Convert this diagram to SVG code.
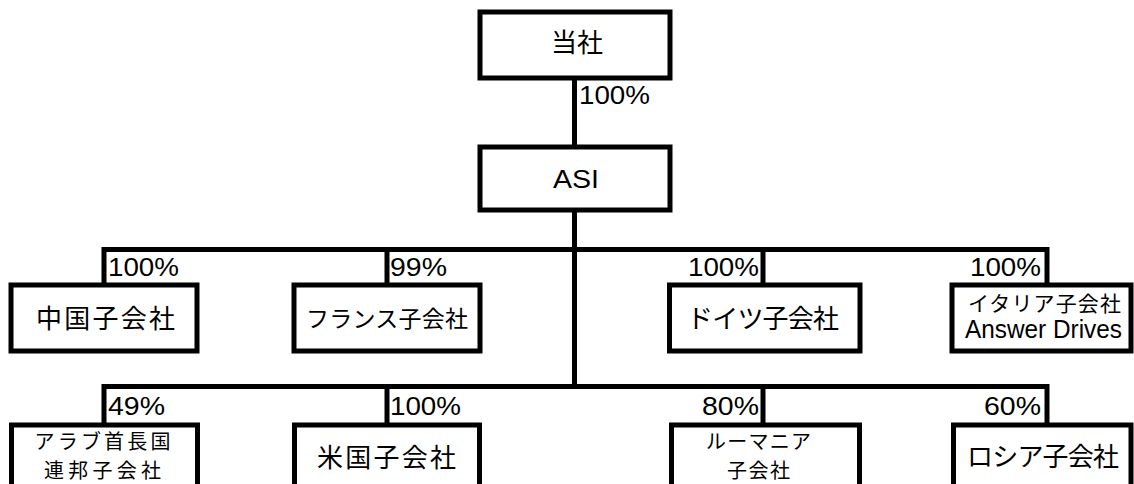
<svg xmlns="http://www.w3.org/2000/svg" width="1134" height="484" viewBox="0 0 1134 484">
<style>
.box{fill:#fff;stroke:#000;stroke-width:5}
.ln{fill:none;stroke:#000;stroke-width:5;stroke-linejoin:miter}
.jp{font-family:"Noto Sans CJK JP","Noto Sans",sans-serif;fill:#000;text-anchor:middle}
.la{font-family:"Liberation Sans",Arial,sans-serif;fill:#000;font-size:25px}
</style>
<rect width="1134" height="484" fill="#fff"/>
<g id="connectors">
<path class="ln" d="M574.5 78 V147"/>
<path class="ln" d="M574.5 210 V386.5"/>
<path class="ln" d="M104 285 V249.5 H1047 V285 M387 249.5 V285 M763 249.5 V285"/>
<path class="ln" d="M104 425 V386.5 H1047 V425 M387 386.5 V425 M763 386.5 V425"/>
</g>
<g id="labels" class="la">
<text x="579" y="104" textLength="71" lengthAdjust="spacingAndGlyphs">100%</text>
<text x="108" y="276" textLength="71" lengthAdjust="spacingAndGlyphs">100%</text>
<text x="390" y="276" textLength="57" lengthAdjust="spacingAndGlyphs">99%</text>
<text x="759" y="276" text-anchor="end" textLength="71" lengthAdjust="spacingAndGlyphs">100%</text>
<text x="1041" y="276" text-anchor="end" textLength="71" lengthAdjust="spacingAndGlyphs">100%</text>
<text x="108" y="415" textLength="57" lengthAdjust="spacingAndGlyphs">49%</text>
<text x="390" y="415" textLength="71" lengthAdjust="spacingAndGlyphs">100%</text>
<text x="759" y="415" text-anchor="end" textLength="57" lengthAdjust="spacingAndGlyphs">80%</text>
<text x="1041" y="415" text-anchor="end" textLength="57" lengthAdjust="spacingAndGlyphs">60%</text>
</g>
<g id="node-tousha">
<rect class="box" x="480" y="12" width="190" height="66"/>
<text class="jp" x="577" y="52" font-size="26" textLength="52">当社</text>
</g>
<g id="node-asi">
<rect class="box" x="480" y="147" width="190" height="63"/>
<text class="la" x="576" y="188" text-anchor="middle" textLength="46" lengthAdjust="spacingAndGlyphs">ASI</text>
</g>
<g id="node-china">
<rect class="box" x="11" y="285" width="186" height="66"/>
<text class="jp" x="105.5" y="328" font-size="26" textLength="139">中国子会社</text>
</g>
<g id="node-france">
<rect class="box" x="294" y="285" width="186" height="66"/>
<text class="jp" x="387" y="327" font-size="23" textLength="162">フランス子会社</text>
</g>
<g id="node-germany">
<rect class="box" x="669.5" y="285" width="190.5" height="66"/>
<text class="jp" x="763" y="328" font-size="26" textLength="152">ドイツ子会社</text>
</g>
<g id="node-italy">
<rect class="box" x="952" y="285" width="179" height="66"/>
<text class="jp" x="1044.5" y="311" font-size="21" textLength="153">イタリア子会社</text>
<text class="la" x="1043.5" y="338" text-anchor="middle" textLength="157" lengthAdjust="spacingAndGlyphs">Answer Drives</text>
</g>
<g id="node-uae">
<rect class="box" x="11.5" y="425" width="186" height="80"/>
<text class="jp" x="102.5" y="449" font-size="20" textLength="136">アラブ首長国</text>
<text class="jp" x="102.5" y="478" font-size="20" textLength="117">連邦子会社</text>
</g>
<g id="node-usa">
<rect class="box" x="294.5" y="425" width="185" height="80"/>
<text class="jp" x="386.5" y="467" font-size="26" textLength="139">米国子会社</text>
</g>
<g id="node-romania">
<rect class="box" x="671.5" y="425" width="188" height="80"/>
<text class="jp" x="758.5" y="449" font-size="20" textLength="105">ルーマニア</text>
<text class="jp" x="758.5" y="478" font-size="20" textLength="63">子会社</text>
</g>
<g id="node-russia">
<rect class="box" x="953.5" y="425" width="177.5" height="80"/>
<text class="jp" x="1043" y="466" font-size="26" textLength="152">ロシア子会社</text>
</g>
</svg>
